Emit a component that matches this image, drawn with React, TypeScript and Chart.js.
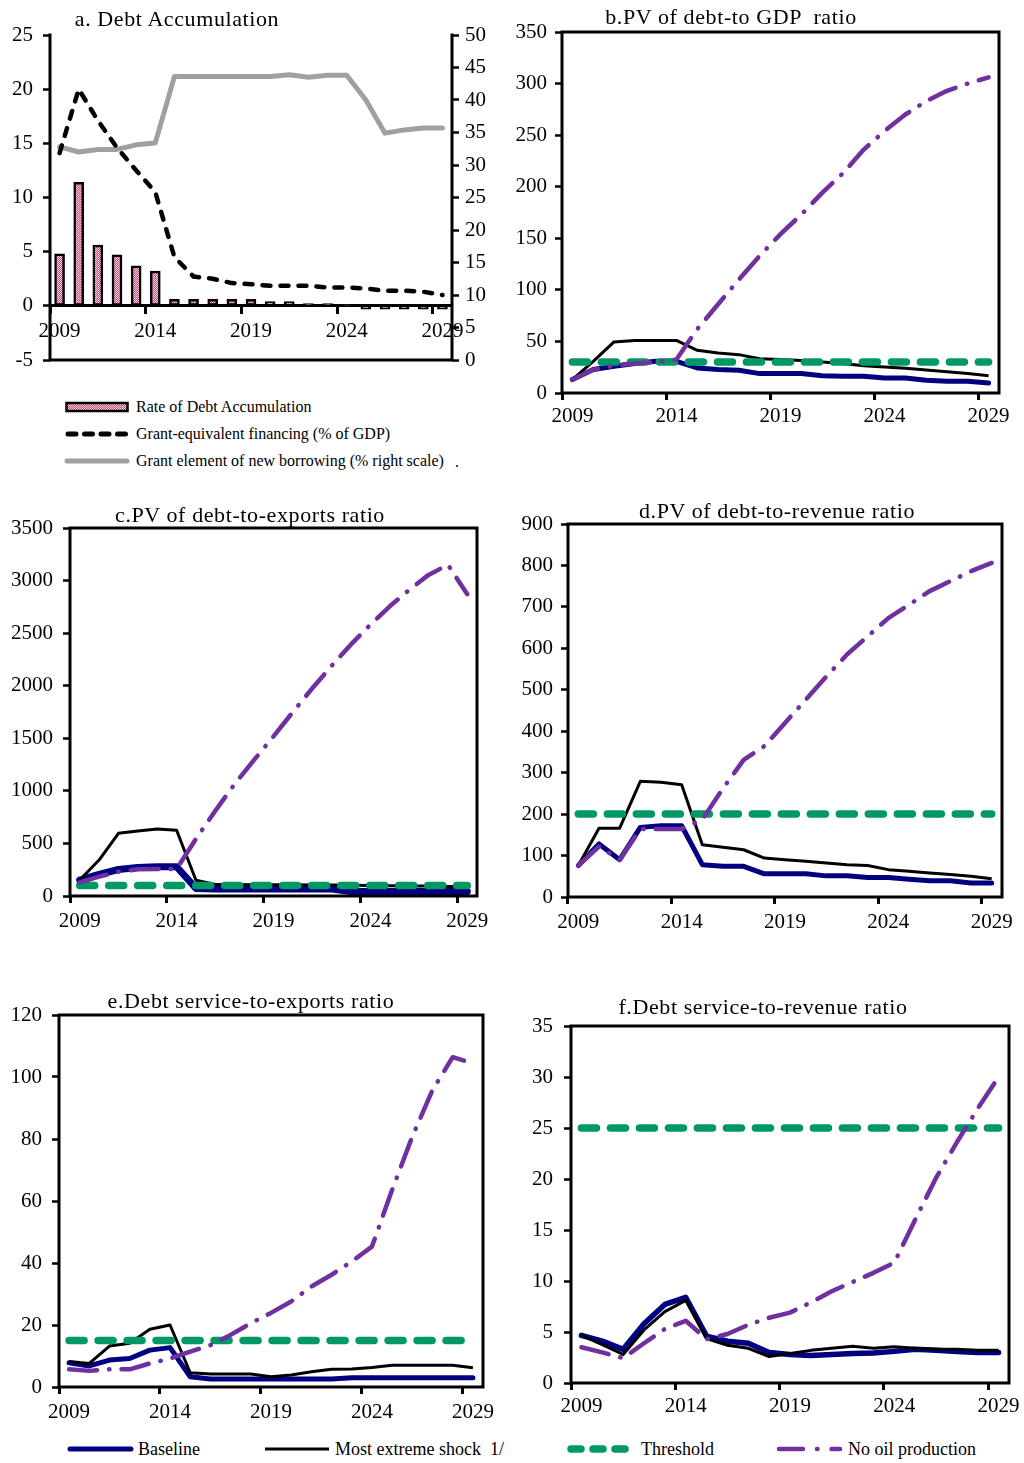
import React, { useEffect, useRef } from 'react';
import { Chart, registerables } from 'chart.js';

Chart.register(...registerables);

const FONT = "'Liberation Serif', 'Times New Roman', Times, serif";
const NAVY = '#000080';
const GREEN = '#009966';
const PURPLE = '#7030A0';
const GREY = '#A0A0A0';

const years = ['2009', '2010', '2011', '2012', '2013', '2014', '2015', '2016', '2017', '2018', '2019', '2020', '2021', '2022', '2023', '2024', '2025', '2026', '2027', '2028', '2029'];
const labeledYears = ['2009', '2014', '2019', '2024', '2029'];

// a. Debt Accumulation
const debtAccumulation = [4.8, 11.4, 5.6, 4.7, 3.7, 3.2, 0.6, 0.6, 0.6, 0.6, 0.6, 0.4, 0.4, 0.2, 0.2, 0.1, -0.3, -0.3, -0.3, -0.3, -0.3];
const grantEquivalentFinancing = [14.1, 20.0, 17.1, 14.6, 12.5, 10.5, 4.5, 2.7, 2.5, 2.1, 2.0, 1.85, 1.85, 1.85, 1.7, 1.7, 1.6, 1.4, 1.4, 1.3, 1.0];
const grantElement = [32.8, 32.0, 32.4, 32.4, 33.1, 33.4, 43.6, 43.6, 43.6, 43.6, 43.6, 43.6, 43.9, 43.5, 43.8, 43.8, 40.0, 34.9, 35.4, 35.7, 35.7];

// b. PV of debt-to GDP ratio
const bBaseline = [13, 22.7, 25.9, 28.5, 30.7, 30.7, 24.3, 22.7, 22.0, 18.8, 18.8, 18.8, 16.8, 16.2, 16.2, 14.6, 14.6, 12.3, 11.3, 11.3, 9.7];
const bShock = [13, 30.7, 49.5, 51, 51, 51, 41.4, 38.8, 37.2, 33.3, 32.4, 31.4, 30, 28.5, 26.5, 25.2, 24, 22.3, 20.7, 19, 16.8];
const bThreshold = [30, 30, 30, 30, 30, 30, 30, 30, 30, 30, 30, 30, 30, 30, 30, 30, 30, 30, 30, 30, 30];
const bNoOil = [13, 22.7, 26.5, 28.5, 30, 32.4, 62, 86, 110, 133, 154, 173, 194, 213, 236, 254, 270, 283, 293, 300, 306];

// c. PV of debt-to-exports ratio
const cBaseline = [150, 205, 252, 272, 278, 278, 72, 66, 66, 66, 66, 66, 66, 66, 42, 42, 42, 42, 42, 42, 42];
const cShock = [152, 342, 596, 618, 637, 625, 150, 110, 110, 108, 108, 106, 105, 104, 102, 100, 98, 96, 94, 90, 85];
const cThreshold = [100, 100, 100, 100, 100, 100, 100, 100, 100, 100, 100, 100, 100, 100, 100, 100, 100, 100, 100, 100, 100];
const cNoOil = [130, 184, 231, 254, 257, 257, 544, 811, 1066, 1295, 1518, 1750, 1975, 2189, 2393, 2580, 2755, 2911, 3054, 3150, 2870];

// d. PV of debt-to-revenue ratio
const dBaseline = [76, 128, 90, 168, 172, 172, 78, 74, 74, 56, 56, 56, 51, 51, 47, 47, 43, 39, 39, 34, 34];
const dShock = [76, 166, 166, 279, 277, 271, 126, 120, 114, 94, 90, 86, 82, 78, 76, 66, 62, 58, 54, 50, 44];
const dThreshold = [200, 200, 200, 200, 200, 200, 200, 200, 200, 200, 200, 200, 200, 200, 200, 200, 200, 200, 200, 200, 200];
const dNoOil = [76, 122, 90, 164, 164, 164, 187, 262, 331, 364, 420, 476, 532, 585, 629, 673, 705, 738, 762, 786, 806];

// e. Debt service-to-exports ratio
const eBaseline = [7.8, 6.8, 8.7, 9.2, 11.9, 12.7, 3.3, 2.6, 2.6, 2.6, 2.6, 2.6, 2.6, 2.6, 3.0, 3.0, 3.0, 3.0, 3.0, 3.0, 3.0];
const eShock = [8.2, 7.6, 13.2, 14.1, 18.6, 20.0, 4.6, 4.2, 4.2, 4.2, 3.3, 3.9, 4.9, 5.7, 5.8, 6.3, 7.0, 7.0, 7.0, 7.0, 6.2];
const eThreshold = [15, 15, 15, 15, 15, 15, 15, 15, 15, 15, 15, 15, 15, 15, 15, 15, 15, 15, 15, 15, 15];
const eNoOil = [5.7, 5.2, 5.7, 5.7, 7.6, 9.2, 11.4, 13.5, 16.8, 20.6, 23.9, 27.6, 32.4, 36.2, 40.5, 45.3, 63.6, 80.8, 95.8, 106.4, 104.4];

// f. Debt service-to-revenue ratio
const fBaseline = [4.67, 4.1, 3.3, 5.8, 7.7, 8.4, 4.6, 4.1, 3.9, 3.0, 2.8, 2.7, 2.8, 2.9, 2.95, 3.1, 3.3, 3.2, 3.1, 3.0, 3.0];
const fShock = [4.67, 3.75, 2.8, 5.2, 7.0, 8.1, 4.35, 3.7, 3.4, 2.6, 2.9, 3.2, 3.4, 3.6, 3.4, 3.55, 3.4, 3.3, 3.3, 3.2, 3.2];
const fThreshold = [25, 25, 25, 25, 25, 25, 25, 25, 25, 25, 25, 25, 25, 25, 25, 25, 25, 25, 25, 25, 25];
const fNoOil = [3.5, 3.0, 2.45, 3.9, 5.3, 6.1, 4.3, 4.8, 5.7, 6.4, 6.9, 7.9, 9.0, 9.9, 10.8, 11.8, 16.0, 20.1, 23.6, 26.9, 30.0];

type Geo = {
  left: number; top: number; width: number; height: number;
  padTop: number; padRight: number; padBottom: number;
  yWidth: number; xHeight: number; yPad: number; xPad: number;
};

const geoA: Geo = { left: 0, top: 11, width: 512, height: 373, padTop: 24, padRight: 0, padBottom: 24, yWidth: 50, xHeight: 0, yPad: 10, xPad: 6 };
const geoB: Geo = { left: 512, top: 8, width: 512, height: 428, padTop: 24, padRight: 25, padBottom: 0, yWidth: 50, xHeight: 43, yPad: 8, xPad: 4 };
const geoC: Geo = { left: 0, top: 504, width: 512, height: 438, padTop: 24, padRight: 35, padBottom: 0, yWidth: 70, xHeight: 46, yPad: 10, xPad: 6 };
const geoD: Geo = { left: 512, top: 500, width: 512, height: 438, padTop: 24, padRight: 22, padBottom: 0, yWidth: 56, xHeight: 41, yPad: 8, xPad: 6 };
const geoE: Geo = { left: 0, top: 991, width: 512, height: 438, padTop: 24, padRight: 29, padBottom: 0, yWidth: 59, xHeight: 42, yPad: 10, xPad: 6 };
const geoF: Geo = { left: 512, top: 1002, width: 512, height: 428, padTop: 24, padRight: 15, padBottom: 0, yWidth: 59, xHeight: 47, yPad: 11, xPad: 4 };

function framePlugin(sides: { top: boolean; right: boolean; bottom: boolean; left: boolean }) {
  return {
    id: 'frame',
    afterDatasetsDraw(chart: any) {
      const { ctx, chartArea: a } = chart;
      ctx.save();
      ctx.strokeStyle = '#000';
      ctx.lineWidth = 3;
      ctx.lineCap = 'square';
      ctx.beginPath();
      if (sides.top) { ctx.moveTo(a.left, a.top); ctx.lineTo(a.right, a.top); }
      if (sides.right) { ctx.moveTo(a.right, a.top); ctx.lineTo(a.right, a.bottom); }
      if (sides.bottom) { ctx.moveTo(a.left, a.bottom); ctx.lineTo(a.right, a.bottom); }
      if (sides.left) { ctx.moveTo(a.left, a.top); ctx.lineTo(a.left, a.bottom); }
      ctx.stroke();
      ctx.restore();
    },
  };
}

function xAxis(geo: Geo, extra: any = {}) {
  return {
    type: 'category',
    axis: 'x',
    offset: true,
    grid: {
      offset: true,
      drawOnChartArea: false,
      drawTicks: true,
      tickLength: 7,
      tickWidth: 3,
      tickColor: (c: any) => (typeof c.index === 'number' && c.index % 5 === 0 ? '#000' : 'rgba(0,0,0,0)'),
    },
    border: { display: false },
    ticks: {
      autoSkip: false,
      maxRotation: 0,
      minRotation: 0,
      padding: geo.xPad,
      color: '#000',
      font: { family: FONT, size: 21 },
      callback: (_v: any, i: number) => (labeledYears.includes(years[i]) ? years[i] : ''),
    },
    afterFit: (s: any) => { s.height = geo.xHeight; },
    ...extra,
  };
}

function yAxis(min: number, max: number, step: number, width: number, pad: number, position = 'left') {
  return {
    type: 'linear',
    position,
    min,
    max,
    ticks: {
      stepSize: step,
      padding: pad,
      color: '#000',
      font: { family: FONT, size: 21 },
      callback: (v: any) => String(v),
    },
    grid: { drawOnChartArea: false, drawTicks: true, tickLength: 7, tickWidth: 2.5, tickColor: '#000' },
    border: { display: false },
    afterFit: (s: any) => { s.width = width; },
  };
}

const lineBase = { pointRadius: 0, pointHoverRadius: 0, tension: 0, fill: false, borderJoinStyle: 'round' };

function scenarioDatasets(baseline: number[], shock: number[], threshold: number[], noOil: number[], baselineWidth = 5) {
  return [
    { ...lineBase, label: 'Baseline', data: baseline, borderColor: NAVY, borderWidth: baselineWidth, borderCapStyle: 'round', order: 4 },
    { ...lineBase, label: 'Most extreme shock 1/', data: shock, borderColor: '#000', borderWidth: 3, order: 3 },
    { ...lineBase, label: 'Threshold', data: threshold, borderColor: GREEN, borderWidth: 7.5, borderDash: [15, 14], borderCapStyle: 'round', order: 2 },
    { ...lineBase, label: 'No oil production', data: noOil, borderColor: PURPLE, borderWidth: 4.5, borderDash: [28, 12, 0.5, 12], borderCapStyle: 'round', order: 1 },
  ];
}

function baseOptions(geo: Geo) {
  return {
    responsive: false,
    maintainAspectRatio: false,
    animation: false,
    events: [],
    layout: { padding: { top: geo.padTop, right: geo.padRight, bottom: geo.padBottom, left: 0 } },
    plugins: { legend: { display: false }, tooltip: { enabled: false }, title: { display: false } },
  };
}

function scenarioConfig(geo: Geo, yMin: number, yMax: number, yStep: number, datasets: any[]) {
  return {
    type: 'line',
    data: { labels: years, datasets },
    options: {
      ...baseOptions(geo),
      scales: { x: xAxis(geo), y: yAxis(yMin, yMax, yStep, geo.yWidth, geo.yPad) },
    },
    plugins: [framePlugin({ top: true, right: true, bottom: true, left: true })],
  };
}

function makePattern(canvas: HTMLCanvasElement) {
  const tile = document.createElement('canvas');
  tile.width = 2;
  tile.height = 2;
  const g = tile.getContext('2d')!;
  g.fillStyle = '#F6CFE0';
  g.fillRect(0, 0, 2, 2);
  g.fillStyle = '#C8507E';
  g.fillRect(0, 0, 1, 1);
  g.fillRect(1, 1, 1, 1);
  return canvas.getContext('2d')!.createPattern(tile, 'repeat');
}

function debtConfig(canvas: HTMLCanvasElement) {
  const geo = geoA;
  const pattern = makePattern(canvas);
  return {
    type: 'bar',
    data: {
      labels: years,
      datasets: [
        { type: 'bar', label: 'Rate of Debt Accumulation', data: debtAccumulation, backgroundColor: pattern, borderColor: '#000', borderWidth: 2.5, borderSkipped: false, barThickness: 10, yAxisID: 'y', order: 3 },
        { ...lineBase, type: 'line', label: 'Grant-equivalent financing (% of GDP)', data: grantEquivalentFinancing, borderColor: '#000', borderWidth: 4.5, borderDash: [8, 10], borderCapStyle: 'round', yAxisID: 'y', order: 1 },
        { ...lineBase, type: 'line', label: 'Grant element of new borrowing (% right scale)', data: grantElement, borderColor: GREY, borderWidth: 5, borderCapStyle: 'round', yAxisID: 'y2', order: 2 },
      ],
    },
    options: {
      ...baseOptions(geo),
      scales: {
        x: xAxis(geo, { position: { y: 0 }, border: { display: true, color: '#000', width: 3 } }),
        y: yAxis(-5, 25, 5, 50, 10),
        y2: yAxis(0, 50, 5, 60, 6, 'right'),
      },
    },
    plugins: [framePlugin({ top: false, right: true, bottom: true, left: true })],
  };
}

function ChartCanvas({ geo, build }: { geo: Geo; build: (c: HTMLCanvasElement) => any }) {
  const ref = useRef<HTMLCanvasElement>(null);
  useEffect(() => {
    const canvas = ref.current!;
    const chart = new Chart(canvas, build(canvas));
    return () => chart.destroy();
  }, []);
  return (
    <canvas
      ref={ref}
      width={geo.width}
      height={geo.height}
      style={{ position: 'absolute', left: geo.left, top: geo.top, width: geo.width, height: geo.height }}
    />
  );
}

function Title({ text, cx, cy }: { text: string; cx: number; cy: number }) {
  return (
    <div
      style={{
        position: 'absolute', left: cx - 250, top: cy - 13, width: 500, textAlign: 'center',
        fontFamily: FONT, fontSize: 22, lineHeight: '26px', letterSpacing: '0.6px', whiteSpace: 'pre', color: '#000',
      }}
    >
      {text}
    </div>
  );
}

function Txt({ text, x, y, size }: { text: string; x: number; y: number; size: number }) {
  return (
    <div
      style={{
        position: 'absolute', left: x, top: y - size * 0.6, fontFamily: FONT, fontSize: size,
        lineHeight: `${Math.round(size * 1.2)}px`, whiteSpace: 'pre', color: '#000',
      }}
    >
      {text}
    </div>
  );
}

function Swatch({ x, y, w, children }: { x: number; y: number; w: number; children: React.ReactNode }) {
  return (
    <svg width={w} height={14} style={{ position: 'absolute', left: x, top: y - 7, overflow: 'visible' }}>
      {children}
    </svg>
  );
}

export default function App() {
  return (
    <div style={{ position: 'absolute', left: 0, top: 0, width: 1024, height: 1463, background: '#fff', overflow: 'hidden' }}>
      <ChartCanvas geo={geoA} build={(c) => debtConfig(c)} />
      <ChartCanvas geo={geoB} build={() => scenarioConfig(geoB, 0, 350, 50, scenarioDatasets(bBaseline, bShock, bThreshold, bNoOil))} />
      <ChartCanvas geo={geoC} build={() => scenarioConfig(geoC, 0, 3500, 500, scenarioDatasets(cBaseline, cShock, cThreshold, cNoOil, 7))} />
      <ChartCanvas geo={geoD} build={() => scenarioConfig(geoD, 0, 900, 100, scenarioDatasets(dBaseline, dShock, dThreshold, dNoOil))} />
      <ChartCanvas geo={geoE} build={() => scenarioConfig(geoE, 0, 120, 20, scenarioDatasets(eBaseline, eShock, eThreshold, eNoOil))} />
      <ChartCanvas geo={geoF} build={() => scenarioConfig(geoF, 0, 35, 5, scenarioDatasets(fBaseline, fShock, fThreshold, fNoOil, 5.5))} />

      <Title text="a. Debt Accumulation" cx={177} cy={19} />
      <Title text="b.PV of debt-to GDP  ratio" cx={731} cy={17} />
      <Title text="c.PV of debt-to-exports ratio" cx={250} cy={515} />
      <Title text="d.PV of debt-to-revenue ratio" cx={777} cy={511} />
      <Title text="e.Debt service-to-exports ratio" cx={251} cy={1001} />
      <Title text="f.Debt service-to-revenue ratio" cx={763} cy={1007} />

      {/* Panel a legend */}
      <svg width={0} height={0} style={{ position: 'absolute' }}>
        <defs>
          <pattern id="pinkCheck" width="2" height="2" patternUnits="userSpaceOnUse">
            <rect width="2" height="2" fill="#F6CFE0" />
            <rect width="1" height="1" fill="#C8507E" />
            <rect x="1" y="1" width="1" height="1" fill="#C8507E" />
          </pattern>
        </defs>
      </svg>
      <Swatch x={65} y={407} w={64}>
        <rect x={1.5} y={3} width={61} height={8} fill="url(#pinkCheck)" stroke="#000" strokeWidth={2.5} />
      </Swatch>
      <Txt text="Rate of Debt Accumulation" x={136} y={407} size={16} />
      <Swatch x={65} y={434} w={64}>
        <line x1={3} y1={7} x2={63} y2={7} stroke="#000" strokeWidth={5} strokeLinecap="round" strokeDasharray="8 8.5" />
      </Swatch>
      <Txt text="Grant-equivalent financing (% of GDP)" x={136} y={434} size={16} />
      <Swatch x={65} y={461} w={64}>
        <line x1={2} y1={7} x2={62} y2={7} stroke={GREY} strokeWidth={5} strokeLinecap="round" />
      </Swatch>
      <Txt text="Grant element of new borrowing (% right scale)" x={136} y={461} size={16} />
      <Txt text="." x={455} y={462} size={16} />

      {/* Bottom legend */}
      <Swatch x={67} y={1449} w={66}>
        <line x1={3} y1={7} x2={64} y2={7} stroke={NAVY} strokeWidth={5} strokeLinecap="round" />
      </Swatch>
      <Txt text="Baseline" x={138} y={1449} size={18} />
      <Swatch x={265} y={1449} w={64}>
        <line x1={0} y1={7} x2={64} y2={7} stroke="#000" strokeWidth={3} />
      </Swatch>
      <Txt text="Most extreme shock  1/" x={335} y={1449} size={18} />
      <Swatch x={567} y={1449} w={64}>
        <line x1={4} y1={7} x2={60} y2={7} stroke={GREEN} strokeWidth={7.5} strokeLinecap="round" strokeDasharray="10 12" />
      </Swatch>
      <Txt text="Threshold" x={641} y={1449} size={18} />
      <Swatch x={776} y={1449} w={66}>
        <line x1={3} y1={7} x2={64} y2={7} stroke={PURPLE} strokeWidth={4.5} strokeLinecap="round" strokeDasharray="24 14 0.5 14" />
      </Swatch>
      <Txt text="No oil production" x={848} y={1449} size={18} />
    </div>
  );
}
